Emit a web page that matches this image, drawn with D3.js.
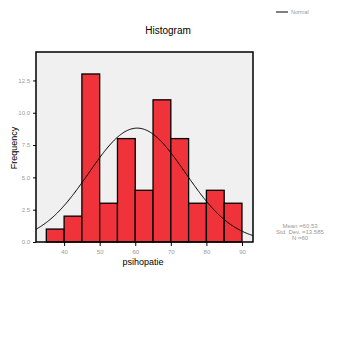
<!DOCTYPE html>
<html><head><meta charset="utf-8">
<script src="https://cdn.jsdelivr.net/npm/d3@7"></script>
<style>body{margin:0;background:#fff}</style>
</head><body>
<script>
const binStarts = [35,40,45,50,55,60,65,70,75,80,85];
const counts = [1,2,13,3,8,4,11,8,3,4,3];
const binWidth = 5;
const meanVal = 60.53, sdVal = 13.585, nVal = 60;
const xTicks = [40,50,60,70,80,90];
const yTicks = [0,2.5,5,7.5,10,12.5];
const statLines = ["Mean =60.53","Std. Dev. =13.585","N =60"];

const W=338,H=347;
const svg=d3.select("body").append("svg").attr("width",W).attr("height",H);
const L=36,R=253,T=52,B=242;
const x=d3.scaleLinear().domain([32.1,93.1]).range([L,R]);
const y=d3.scaleLinear().domain([0,14.7]).range([B,T]);

svg.append("rect").attr("x",L).attr("y",T).attr("width",R-L).attr("height",B-T).attr("fill","#f0f0f0");

svg.append("g").selectAll("rect").data(binStarts).join("rect")
 .attr("x",d=>x(d)).attr("width",d=>x(d+binWidth)-x(d))
 .attr("y",(d,i)=>y(counts[i])).attr("height",(d,i)=>y(0)-y(counts[i]))
 .attr("fill","#f0333b").attr("stroke","#000").attr("stroke-width",1.3);

// normal curve
const pts=d3.range(x.domain()[0],x.domain()[1]+0.01,0.25).map(v=>[v,nVal*binWidth/(sdVal*Math.sqrt(2*Math.PI))*Math.exp(-0.5*((v-meanVal)/sdVal)**2)]);
svg.append("path").datum(pts).attr("fill","none").attr("stroke","#000").attr("stroke-width",1)
 .attr("d",d3.line().x(d=>x(d[0])).y(d=>y(d[1])));

svg.append("rect").attr("x",L).attr("y",T).attr("width",R-L).attr("height",B-T).attr("fill","none").attr("stroke","#000").attr("stroke-width",1.5);

const xa=svg.append("g").attr("transform",`translate(0,${B})`).call(d3.axisBottom(x).tickValues(xTicks).tickSize(4).tickFormat(d3.format("d")));
const ya=svg.append("g").attr("transform",`translate(${L},0)`).call(d3.axisLeft(y).tickValues(yTicks).tickSize(3).tickFormat(d3.format(".1f")));
[xa,ya].forEach(a=>{a.select(".domain").remove();a.selectAll("line").attr("stroke","#000");a.selectAll("text").attr("fill","#999").style("font-family","Liberation Sans, Arial, sans-serif").style("font-size","6px");});
xa.selectAll("text").attr("dy","0.9em");

svg.append("text").attr("x",168).attr("y",34).attr("text-anchor","middle").style("font-family","Liberation Sans, Arial, sans-serif").style("font-size","10px").text("Histogram");
svg.append("text").attr("x",143).attr("y",265).attr("text-anchor","middle").style("font-family","Liberation Sans, Arial, sans-serif").style("font-size","9px").text("psihopatie");
svg.append("text").attr("transform","translate(17,148) rotate(-90)").attr("text-anchor","middle").style("font-family","Liberation Sans, Arial, sans-serif").style("font-size","9px").text("Frequency");

svg.append("line").attr("x1",276).attr("x2",288).attr("y1",12).attr("y2",12).attr("stroke","#000").attr("stroke-width",1);
svg.append("text").attr("x",291).attr("y",14).attr("fill","#999").style("font-family","Liberation Sans, Arial, sans-serif").style("font-size","5.5px").text("Normal");

svg.append("g").selectAll("text").data(statLines).join("text").attr("x",300).attr("y",(d,i)=>228+i*6)
 .attr("text-anchor","middle").attr("fill","#999").style("font-family","Liberation Sans, Arial, sans-serif").style("font-size","6px").text(d=>d);
</script>
</body></html>
